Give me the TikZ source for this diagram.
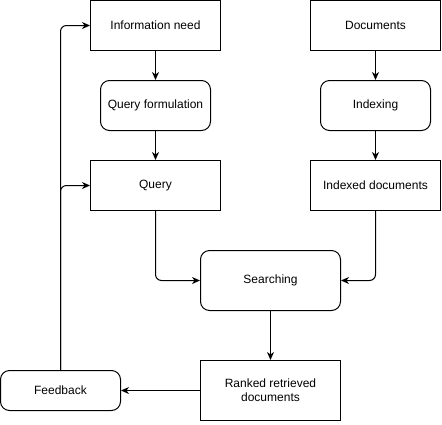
\documentclass[tikz,border=0pt]{standalone}
\usepackage{fontspec}
\setmainfont{Liberation Sans}
\usetikzlibrary{arrows.meta}

\begin{document}
\begin{tikzpicture}[x=1pt, y=-1pt, font=\fontsize{12}{14}\selectfont,
    box/.style={draw, line width=1pt, inner sep=0pt, align=center,
      minimum width=130pt, minimum height=50pt},
    roundbox/.style={box, rounded corners=9pt},
    arr/.style={line width=1pt, -{Stealth[length=8pt, width=7pt, inset=2.5pt]}},
    elbow/.style={arr, rounded corners=6pt}]
  \useasboundingbox (0,0) rectangle (442,424);

  % left column
  \node [box] (need) at (155.5,25.5) {Information need};
  \node [roundbox, minimum width=110pt] (qform) at (155.5,105.5) {Query formulation};
  \node [box] (query) at (155.5,185.5) {Query};

  % right column
  \node [box] (docs) at (375.5,25.5) {Documents};
  \node [roundbox, minimum width=110pt] (index) at (375.5,105.5) {Indexing};
  \node [box] (indexed) at (375.5,185.5) {Indexed documents};

  % bottom
  \node [roundbox, minimum width=140pt, minimum height=60pt] (search) at (270.5,280.5) {Searching};
  \node [box, minimum width=140pt, minimum height=60pt] (ranked) at (270.5,390.5) {Ranked retrieved\\documents};
  \node [roundbox, minimum width=120pt, minimum height=40pt] (feedback) at (60.5,390.5) {Feedback};

  \draw [arr] (need) -- (qform);
  \draw [arr] (qform) -- (query);
  \draw [arr] (docs) -- (index);
  \draw [arr] (index) -- (indexed);
  \draw [elbow] (query.south) |- (search.west);
  \draw [elbow] (indexed.south) |- (search.east);
  \draw [arr] (search) -- (ranked);
  \draw [arr] (ranked) -- (feedback);
  \draw [elbow] (feedback.north) |- (need.west);
  \draw [elbow] (feedback.north) |- (query.west);
\end{tikzpicture}
\end{document}
